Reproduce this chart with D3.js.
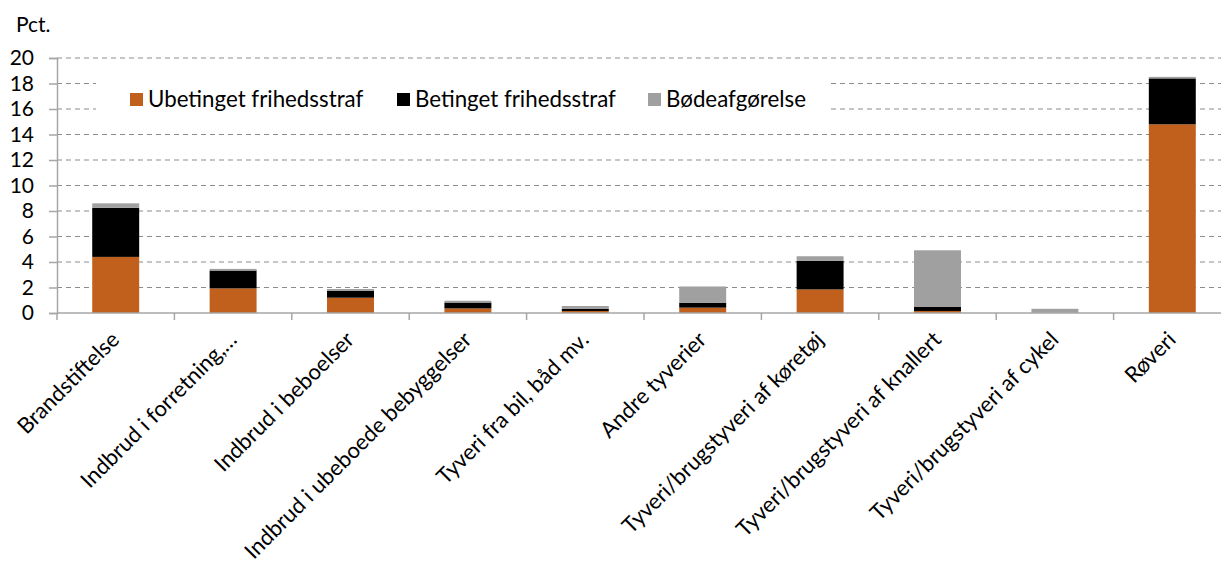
<!DOCTYPE html>
<html>
<head>
<meta charset="utf-8">
<title>Straffe pr. kategori</title>
<style>
body { margin: 0; background: #fff; }
svg { display: block; font-family: Lato, "Open Sans", sans-serif; }
</style>
<script src="https://d3js.org/d3.v7.min.js"></script>
</head>
<body>
<svg class="chart" width="1221" height="568"></svg>
<script>

// data
var categories = ["Brandstiftelse", "Indbrud i forretning,\u2026", "Indbrud i beboelser",
  "Indbrud i ubeboede bebyggelser", "Tyveri fra bil, båd mv.", "Andre tyverier",
  "Tyveri/brugstyveri af køretøj", "Tyveri/brugstyveri af knallert",
  "Tyveri/brugstyveri af cykel", "Røveri"];
var ubetinget = [4.4, 1.93, 1.2, 0.36, 0.16, 0.42, 1.85, 0.16, 0.01, 14.8];
var betinget  = [3.85, 1.4, 0.55, 0.46, 0.18, 0.39, 2.25, 0.31, 0.02, 3.6];
var boede     = [0.35, 0.13, 0.13, 0.14, 0.21, 1.27, 0.35, 4.45, 0.3, 0.12];
var seriesNames = ["Ubetinget frihedsstraf", "Betinget frihedsstraf", "Bødeafgørelse"];
var yTicks = [0, 2, 4, 6, 8, 10, 12, 14, 16, 18, 20];

var colors = ["#c0601c", "#000000", "#a0a0a0"];
var margin = {top: 58, left: 57},
    width = 1174,
    height = 255;

var svg = d3.select(".chart");
var g = svg.append("g")
    .attr("transform", "translate(" + margin.left + "," + margin.top + ")");

var x = d3.scaleBand().domain(categories).range([0, width]).padding(0);
var y = d3.scaleLinear().domain([0, 20]).range([height, 0]);

// gridlines
g.selectAll(".grid")
  .data(yTicks.filter(function(d) { return d > 0; }))
  .enter().append("line")
    .attr("x1", 0).attr("x2", width)
    .attr("y1", function(d) { return y(d); })
    .attr("y2", function(d) { return y(d); })
    .attr("stroke", "#8c8c8c")
    .attr("stroke-width", 1.2)
    .attr("stroke-dasharray", "5,4");

// stacked bars
var table = categories.map(function(c, i) {
  return {cat: c, s0: ubetinget[i], s1: betinget[i], s2: boede[i]};
});
var stack = d3.stack().keys(["s0", "s1", "s2"])(table);
var barW = x.bandwidth() * 0.4;

g.selectAll(".series")
  .data(stack)
  .enter().append("g")
    .attr("fill", function(d, i) { return colors[i]; })
  .selectAll("rect")
  .data(function(d) { return d; })
  .enter().append("rect")
    .attr("x", function(d) { return x(d.data.cat) + (x.bandwidth() - barW) / 2; })
    .attr("width", barW)
    .attr("y", function(d) { return y(d[1]); })
    .attr("height", function(d) { return y(d[0]) - y(d[1]); });

// y axis
var yAxis = g.append("g")
  .call(d3.axisLeft(y).tickValues(yTicks).tickSize(8).tickPadding(15));
yAxis.select(".domain").attr("stroke", "#a6a6a6").attr("stroke-width", 1.5);
yAxis.selectAll(".tick line").attr("stroke", "#a6a6a6").attr("stroke-width", 1.5);
yAxis.selectAll(".tick text")
  .attr("font-size", 21).attr("fill", "#000").attr("font-family", "Lato");

// x axis
var xAxis = g.append("g").attr("transform", "translate(0," + height + ")");
xAxis.append("line")
  .attr("x1", 0).attr("x2", width)
  .attr("stroke", "#a6a6a6").attr("stroke-width", 1.5);
xAxis.selectAll(".xtick")
  .data(categories)
  .enter().append("line")
    .attr("x1", function(d) { return x(d); })
    .attr("x2", function(d) { return x(d); })
    .attr("y1", 0).attr("y2", 7)
    .attr("stroke", "#a6a6a6").attr("stroke-width", 1.5);
xAxis.selectAll(".xlabel")
  .data(categories)
  .enter().append("text")
    .attr("transform", function(d) {
      return "translate(" + (x(d) + x.bandwidth() / 2 + 5) + ",28) rotate(-45)";
    })
    .attr("text-anchor", "end")
    .attr("font-size", 22)
    .text(function(d) { return d; });

// legend box, hides gridlines behind it
var legend = svg.append("g");
legend.append("rect")
  .attr("x", 96).attr("y", 63).attr("width", 735).attr("height", 66)
  .attr("fill", "#fff");
var legendX = [130, 397, 648];
seriesNames.forEach(function(name, i) {
  legend.append("rect")
    .attr("x", legendX[i]).attr("y", 93).attr("width", 13).attr("height", 13)
    .attr("fill", colors[i]);
  legend.append("text")
    .attr("x", legendX[i] + 18).attr("y", 107)
    .attr("font-size", 22.3)
    .text(name);
});

svg.append("text")
  .attr("x", 16).attr("y", 32)
  .attr("font-size", 21)
  .text("Pct.");

</script>
</body>
</html>
